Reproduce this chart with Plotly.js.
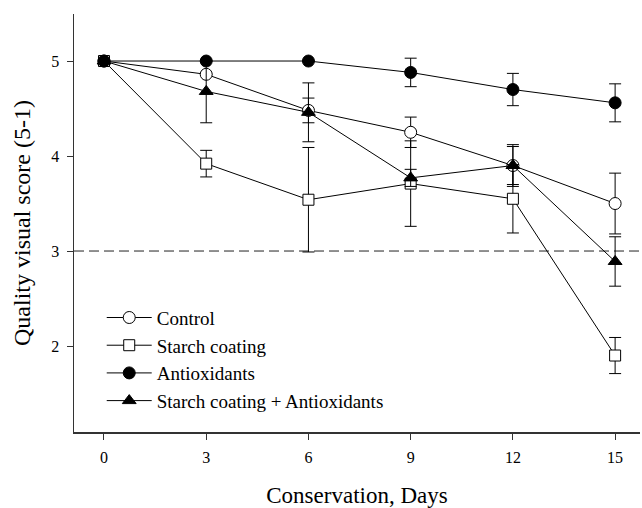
<!DOCTYPE html>
<html>
<head>
<meta charset="utf-8">
<script src="https://cdn.plot.ly/plotly-3.0.1.min.js"></script>
<style>html,body{margin:0;padding:0;background:#fff;}#chart{width:642px;height:508px;}</style>
</head>
<body>
<div id="chart"></div>
<script>
var days = [0, 3, 6, 9, 12, 15];
var seriesNames = ["Control", "Starch coating", "Antioxidants", "Starch coating + Antioxidants"];
var control = [5, 4.86, 4.48, 4.25, 3.90, 3.50];
var controlErr = [0, 0, 0.13, 0.16, 0.22, 0.32];
var starch = [5, 3.92, 3.54, 3.71, 3.55, 1.90];
var starchErr = [0, 0.14, 0.55, 0.45, 0.36, 0.19];
var antiox = [5, 5, 5, 4.88, 4.70, 4.56];
var antioxErr = [0, 0, 0, 0.15, 0.17, 0.20];
var both = [5, 4.68, 4.46, 3.77, 3.90, 2.89];
var bothErr = [0, 0.33, 0.31, 0.09, 0.20, 0.26];
var threshold = 3;
var xTicks = [0, 3, 6, 9, 12, 15];
var yTicks = [2, 3, 4, 5];

function tr(name, y, err, symbol, fill, size) {
  return {
    x: days, y: y, name: name, type: 'scatter', mode: 'lines+markers',
    line: {color: '#000', width: 1},
    marker: {symbol: symbol, size: size, color: fill, line: {color: '#000', width: 1}},
    error_y: {type: 'data', array: err, visible: true, color: '#000', thickness: 1, width: 6}
  };
}
var data = [
  tr(seriesNames[0], control, controlErr, 'circle', '#fff', 12),
  tr(seriesNames[1], starch, starchErr, 'square', '#fff', 11),
  tr(seriesNames[2], antiox, antioxErr, 'circle', '#000', 12),
  tr(seriesNames[3], both, bothErr, 'triangle-up', '#000', 12)
];
var font = 'Liberation Serif, Times New Roman, serif';
var layout = {
  width: 642, height: 508,
  margin: {l: 74, r: 2, t: 14, b: 76},
  paper_bgcolor: '#fff', plot_bgcolor: '#fff',
  font: {family: font, color: '#000'},
  showlegend: true,
  legend: {x: 0.049, y: 0.319, xanchor: 'left', yanchor: 'top', bgcolor: 'rgba(0,0,0,0)',
           itemwidth: 45,
           font: {family: font, size: 19, color: '#000'}, tracegroupgap: 0},
  xaxis: {
    range: [-0.88, 15.73], tickvals: xTicks, ticktext: xTicks.map(String),
    showline: true, linecolor: '#333', linewidth: 1.5, mirror: false,
    ticks: 'outside', ticklen: 6, tickcolor: '#333', tickwidth: 1,
    showgrid: false, zeroline: false, ticklabelstandoff: 4,
    tickfont: {family: font, size: 16, color: '#000'},
    title: {text: 'Conservation, Days', font: {family: font, size: 23, color: '#000'}, standoff: 24}
  },
  yaxis: {
    range: [1.095, 5.495], tickvals: yTicks, ticktext: yTicks.map(String),
    showline: true, linecolor: '#333', linewidth: 1.5, mirror: false,
    ticks: 'outside', ticklen: 6, tickcolor: '#333', tickwidth: 1,
    showgrid: false, zeroline: false, ticklabelstandoff: 4,
    tickfont: {family: font, size: 16, color: '#000'},
    title: {text: 'Quality visual score (5-1)', font: {family: font, size: 24, color: '#000'}, standoff: 14}
  },
  shapes: [{type: 'line', xref: 'paper', x0: 0, x1: 1, yref: 'y', y0: threshold, y1: threshold,
            line: {color: '#222', width: 1, dash: '10px,5px'}, layer: 'below'}]
};
Plotly.newPlot('chart', data, layout, {staticPlot: true, displayModeBar: false});
</script>
</body>
</html>
